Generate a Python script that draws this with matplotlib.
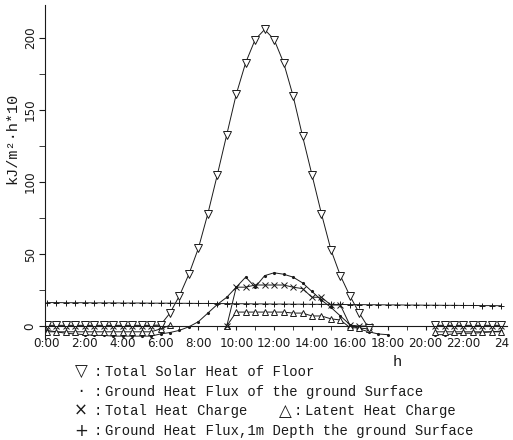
import numpy as np
import matplotlib
matplotlib.use('Agg')
import matplotlib.pyplot as plt
from matplotlib import font_manager
from matplotlib.ticker import MultipleLocator

nan = np.nan

# half-hour readings, 0:00 .. 24:00
hours = np.arange(0, 24.5, 0.5)

# Total Solar Heat of Floor (triangle down)
solar = [0.5, 0.5, 0.5, 0.5, 0.5, 0.5, 0.5, 0.5, 0.5, 0.5, 0.5, 0.5,
         0.7, 9, 21, 36, 54, 78, 105, 133, 161, 183, 199, 206,
         199, 183, 160, 132, 105, 78, 53, 35, 21, 9, -1.5,
         nan, nan, nan, nan, nan, nan,
         0.5, 0.5, 0.5, 0.5, 0.5, 0.5, 0.5, 0.5]

# Ground Heat Flux of the ground Surface (dots)
surface = [-3, -4, -5, -5.5, -6, -6.5, -6.5, -7, -7, -7, -7, -7,
           -5.5, -4.5, -3, -0.5, 3, 9, 15, 20, 27, 34, 27, 35,
           37, 36, 34, 30, 24, 18, 13, 7, 1, -2, -4, -5.5, -6,
           nan, nan, nan, nan,
           -6, -6, -5.5, -5, -5, -4.5, -4, -3.5]

# Total Heat Charge (x)
total_charge = [0, 0, 0, 0, 0, 0, 0, 0, 0, 0, 0, 0,
                0, nan, nan, nan, nan, nan, nan, 0, 27, 27, 28.5, 28.5,
                28.5, 28.5, 27, 26, 20, 20, 14.6, 14.6, 0.7, 0, 0,
                nan, nan, nan, nan, nan, nan,
                0, 0, 0, 0, 0, 0, 0, 0]

# Latent Heat Charge (triangle up)
latent = [-4, -4, -4, -4, -4, -4, -4, -4, -4, -4, -4, -4,
          -2, 0.5, nan, nan, nan, nan, nan, 0, 9.7, 9.7, 9.7, 9.7,
          9.7, 9.7, 9, 9, 7, 7, 5, 4.2, -1, -1.4, -2,
          nan, nan, nan, nan, nan, nan,
          -4, -4, -4, -4, -4, -4, -4, -4]

# Ground Heat Flux, 1m depth (+)
deep = [16.3, 16.3, 16.2, 16.2, 16.2, 16.1, 16.1, 16.1, 16.0, 16.0,
        16.0, 15.9, 15.9, 15.9, 15.8, 15.8, 15.7, 15.7, 15.6, 15.6,
        15.5, 15.5, 15.4, 15.4, 15.3, 15.3, 15.2, 15.2, 15.1, 15.1,
        15.0, 15.0, 14.9, 14.9, 14.8, 14.8, 14.7, 14.7, 14.6, 14.6,
        14.5, 14.5, 14.4, 14.4, 14.3, 14.3, 14.2, 14.2, 14.1]

xticks = list(range(0, 25, 2))
xlabels = [f"{h}:00" for h in xticks[:-1]] + ['24']
yticks = [0, 50, 100, 150, 200]

# narrow digits if a condensed face is around
condensed = any(f.name == 'DejaVu Sans' and 'condensed' in str(f.stretch)
                for f in font_manager.fontManager.ttflist)
if condensed:
    tick_kw = dict(fontfamily='DejaVu Sans', fontstretch='condensed', fontsize=9.5)
else:
    tick_kw = dict(fontfamily='DejaVu Sans Mono', fontsize=8.5)
mono = 'Liberation Mono'
ink = '#1a1a1a'

fig = plt.figure(figsize=(5.13, 4.40), dpi=100)
ax = fig.add_axes([45 / 513, 101 / 440, 462 / 513, 334 / 440])

lw = 0.7
ax.plot(hours, deep, color=ink, lw=lw, marker='+', ms=5, mew=0.7)
ax.plot(hours, surface, color=ink, lw=lw, marker='.', ms=2.5)
ax.plot(hours, latent, color=ink, lw=lw, marker='^', ms=5, mfc='white', mew=0.7)
ax.plot(hours, total_charge, color=ink, lw=lw, marker='x', ms=5, mew=0.7)
ax.plot(hours, solar, color=ink, lw=lw, marker='v', ms=6, mfc='white', mew=0.7)

ax.set_xlim(-0.1, 24.3)
ax.set_ylim(-9, 223)
for s in ['top', 'right']:
    ax.spines[s].set_visible(False)
ax.spines['bottom'].set_position(('data', 0))
for s in ['bottom', 'left']:
    ax.spines[s].set_color(ink)
    ax.spines[s].set_linewidth(0.8)

ax.set_xticks(xticks)
ax.set_xticklabels(xlabels, color=ink, **tick_kw)
ax.xaxis.set_minor_locator(MultipleLocator(1))
ax.set_yticks(yticks)
ax.set_yticklabels([str(v) for v in yticks], color=ink, rotation=90,
                   va='center', **tick_kw)
ax.yaxis.set_minor_locator(MultipleLocator(25))
ax.tick_params(axis='x', which='both', direction='out', length=3, pad=5, color=ink)
ax.tick_params(axis='y', which='both', direction='out', length=4, pad=2, color=ink)

ax.set_ylabel('kJ/m²·h*10', fontfamily=mono, fontsize=11, color=ink)
ax.yaxis.set_label_coords(-0.056, 0.6)

def ftext(x, y, s, **kw):
    fig.text(x / 513, 1 - y / 440, s, va='center', color=ink, **kw)

ftext(397, 362, 'h', ha='center', fontfamily=mono, fontsize=11)

rows = [(372, '▽', 'Total Solar Heat of Floor'),
        (392, '·', 'Ground Heat Flux of the ground Surface'),
        (411, '×', 'Total Heat Charge'),
        (431, '+', 'Ground Heat Flux,1m Depth the ground Surface')]
for y, sym, label in rows:
    ftext(81, y, sym, ha='center', fontfamily='DejaVu Sans', fontsize=12)
    ftext(98, y, ':', ha='center', fontfamily=mono, fontsize=10)
    ftext(105, y, label, ha='left', fontfamily=mono, fontsize=10)
ftext(285, 411, '△', ha='center', fontfamily='DejaVu Sans', fontsize=12)
ftext(298, 411, ':', ha='center', fontfamily=mono, fontsize=10)
ftext(305, 411, 'Latent Heat Charge', ha='left', fontfamily=mono, fontsize=10)

fig.savefig('out.png', dpi=100)
plt.close(fig)
